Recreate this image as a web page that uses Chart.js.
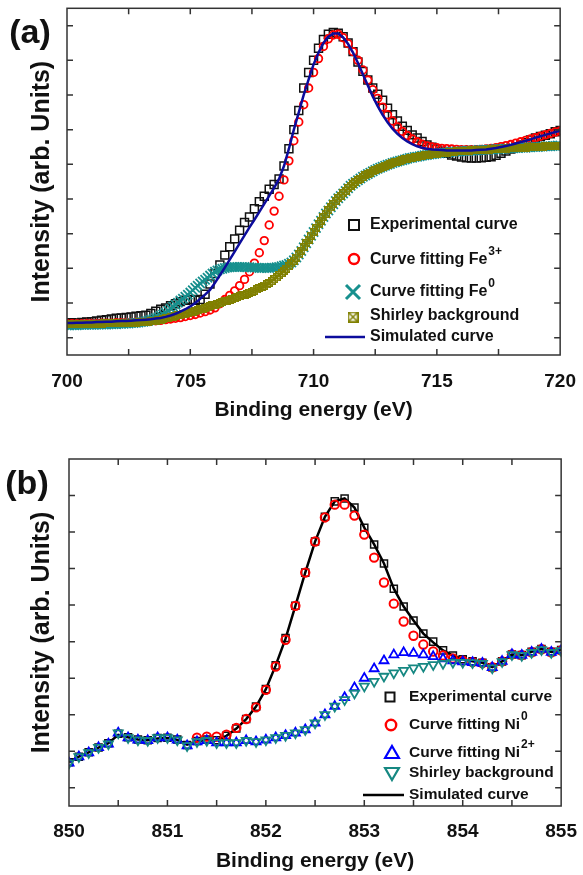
<!DOCTYPE html>
<html>
<head>
<meta charset="utf-8">
<script src="https://cdn.jsdelivr.net/npm/chart.js"></script>
<style>
  html, body { margin: 0; padding: 0; background: #fff; }
  #wrap { position: relative; width: 583px; height: 875px; }
  canvas { position: absolute; left: 0; }
  #chartA { top: 0; }
  #chartB { top: 430px; }
</style>
</head>
<body>
<div id="wrap">
  <canvas id="chartA" width="583" height="430"></canvas>
  <canvas id="chartB" width="583" height="445"></canvas>
</div>
<script>
'use strict';
//panel (a) - Fe 2p, energy grid 700..720 eV
var A_START = 700;
var A_STEP = 0.2;        // experimental, Fe3+ and simulated
var A_STEP_FINE = 0.1;   // Fe0 and Shirley background
var A_TICK_LABELS = [700, 705, 710, 715, 720];
var A_Y_TICKS = [0, 1, 2, 3, 4, 5, 6, 7, 8, 9];

var expA = [
  0.42,0.43,0.42,0.44,0.45,0.46,0.48,0.50,0.52,0.54,
  0.56,0.57,0.58,0.60,0.62,0.63,0.65,0.70,0.76,0.82,
  0.86,0.92,0.98,1.04,1.08,1.10,1.08,1.10,1.25,1.55,
  1.85,2.10,2.38,2.62,2.85,3.10,3.32,3.48,3.72,3.92,
  4.08,4.28,4.42,4.58,4.95,5.45,6.00,6.55,7.20,7.65,
  8.00,8.35,8.60,8.75,8.80,8.78,8.68,8.50,8.25,7.95,
  7.68,7.43,7.20,7.02,6.85,6.62,6.43,6.25,6.10,5.98,
  5.85,5.76,5.66,5.56,5.49,5.44,5.38,5.32,5.27,5.24,
  5.21,5.19,5.18,5.18,5.19,5.20,5.22,5.26,5.32,5.38,
  5.44,5.50,5.56,5.62,5.70,5.76,5.80,5.84,5.88,5.94,
  5.98
];
var fe3A = [
  0.40,0.40,0.40,0.40,0.41,0.41,0.41,0.42,0.42,0.42,
  0.43,0.43,0.44,0.44,0.45,0.46,0.47,0.48,0.49,0.50,
  0.52,0.54,0.56,0.58,0.61,0.64,0.67,0.71,0.75,0.80,
  0.86,0.98,1.10,1.22,1.35,1.50,1.68,1.90,2.15,2.45,
  2.80,3.25,3.65,4.08,4.55,5.10,5.68,6.22,6.72,7.20,
  7.65,8.05,8.40,8.62,8.73,8.75,8.65,8.48,8.25,8.00,
  7.72,7.43,7.15,6.90,6.65,6.43,6.25,6.08,5.95,5.83,
  5.73,5.65,5.58,5.53,5.50,5.48,5.46,5.45,5.44,5.43,
  5.42,5.42,5.42,5.42,5.43,5.44,5.46,5.48,5.51,5.54,
  5.57,5.61,5.65,5.69,5.73,5.77,5.81,5.85,5.89,5.93,
  5.96
];
var simA = [
  0.42,0.42,0.43,0.43,0.44,0.44,0.45,0.45,0.46,0.46,
  0.47,0.48,0.48,0.49,0.50,0.51,0.52,0.53,0.55,0.57,
  0.60,0.64,0.69,0.75,0.82,0.90,1.00,1.12,1.24,1.38,
  1.58,1.80,2.02,2.25,2.48,2.72,2.95,3.18,3.40,3.63,
  3.86,4.09,4.32,4.58,4.95,5.45,6.00,6.50,7.00,7.45,
  7.88,8.22,8.50,8.68,8.77,8.77,8.66,8.47,8.22,7.92,
  7.60,7.27,6.96,6.68,6.43,6.21,6.03,5.88,5.76,5.66,
  5.58,5.52,5.48,5.45,5.43,5.42,5.41,5.40,5.40,5.40,
  5.40,5.40,5.40,5.41,5.42,5.43,5.45,5.47,5.50,5.53,
  5.56,5.60,5.64,5.68,5.72,5.77,5.81,5.85,5.89,5.93,
  5.97
];
var fe0A = [
  0.36,0.36,0.36,0.36,0.36,0.37,0.37,0.37,0.37,0.37,
  0.37,0.37,0.38,0.38,0.38,0.38,0.38,0.39,0.39,0.39,
  0.39,0.40,0.40,0.40,0.41,0.41,0.42,0.42,0.43,0.44,
  0.45,0.46,0.47,0.49,0.51,0.53,0.56,0.59,0.63,0.67,
  0.72,0.78,0.84,0.90,0.95,1.01,1.07,1.12,1.18,1.24,
  1.30,1.37,1.44,1.50,1.56,1.62,1.67,1.73,1.79,1.85,
  1.90,1.94,1.97,1.99,2.01,2.02,2.03,2.04,2.04,2.04,
  2.04,2.04,2.04,2.03,2.03,2.02,2.02,2.02,2.01,2.01,
  2.01,2.01,2.01,2.02,2.02,2.03,2.04,2.06,2.08,2.10,
  2.13,2.17,2.23,2.31,2.40,2.50,2.61,2.72,2.83,2.94,
  3.05,3.16,3.27,3.37,3.48,3.58,3.67,3.76,3.85,3.94,
  4.02,4.09,4.16,4.23,4.31,4.38,4.44,4.49,4.54,4.59,
  4.64,4.68,4.72,4.76,4.80,4.84,4.87,4.90,4.93,4.96,
  4.99,5.01,5.04,5.06,5.08,5.10,5.12,5.14,5.16,5.18,
  5.19,5.21,5.22,5.23,5.25,5.26,5.27,5.28,5.29,5.30,
  5.31,5.32,5.33,5.34,5.34,5.35,5.36,5.36,5.37,5.37,
  5.38,5.38,5.39,5.39,5.40,5.40,5.40,5.41,5.41,5.42,
  5.42,5.42,5.43,5.43,5.44,5.44,5.44,5.45,5.45,5.46,
  5.46,5.46,5.47,5.47,5.48,5.48,5.48,5.49,5.49,5.50,
  5.50,5.50,5.51,5.51,5.52,5.52,5.52,5.53,5.53,5.54,
  5.54
];
var shirleyA = [
  0.40,0.40,0.40,0.40,0.40,0.40,0.40,0.40,0.40,0.40,
  0.40,0.40,0.40,0.40,0.40,0.41,0.41,0.41,0.41,0.41,
  0.41,0.41,0.42,0.42,0.42,0.42,0.43,0.43,0.43,0.44,
  0.44,0.45,0.45,0.46,0.47,0.48,0.49,0.50,0.52,0.54,
  0.56,0.58,0.59,0.61,0.62,0.64,0.66,0.68,0.69,0.71,
  0.73,0.75,0.77,0.79,0.82,0.84,0.86,0.88,0.91,0.93,
  0.95,0.97,1.00,1.02,1.05,1.07,1.09,1.12,1.14,1.17,
  1.19,1.22,1.24,1.27,1.30,1.33,1.36,1.39,1.43,1.46,
  1.50,1.54,1.58,1.63,1.68,1.74,1.80,1.86,1.92,1.99,
  2.06,2.14,2.22,2.31,2.40,2.50,2.61,2.72,2.83,2.94,
  3.05,3.16,3.27,3.37,3.48,3.58,3.67,3.76,3.85,3.94,
  4.02,4.09,4.16,4.23,4.31,4.38,4.44,4.49,4.54,4.59,
  4.64,4.68,4.72,4.76,4.80,4.84,4.87,4.90,4.93,4.96,
  4.99,5.01,5.04,5.06,5.08,5.10,5.12,5.14,5.16,5.18,
  5.19,5.21,5.22,5.23,5.25,5.26,5.27,5.28,5.29,5.30,
  5.31,5.32,5.33,5.34,5.34,5.35,5.36,5.36,5.37,5.37,
  5.38,5.38,5.39,5.39,5.40,5.40,5.40,5.41,5.41,5.42,
  5.42,5.42,5.43,5.43,5.44,5.44,5.44,5.45,5.45,5.46,
  5.46,5.46,5.47,5.47,5.48,5.48,5.48,5.49,5.49,5.50,
  5.50,5.50,5.51,5.51,5.52,5.52,5.52,5.53,5.53,5.54,
  5.54
];

//panel (b) - Ni 2p, energy grid 850..855 eV
var B_START = 850;
var B_STEP = 0.1;
var B_TICK_LABELS = [850, 851, 852, 853, 854, 855];
var B_Y_TICKS = [0, 1, 2, 3, 4, 5, 6, 7, 8];

var expB = [
  0.70,0.85,0.97,1.10,1.22,1.48,1.38,1.32,1.30,1.36,
  1.37,1.32,1.17,1.28,1.32,1.30,1.42,1.62,1.88,2.22,
  2.70,3.35,4.10,4.98,5.89,6.74,7.42,7.84,7.92,7.67,
  7.12,6.66,6.14,5.45,4.96,4.58,4.22,4.00,3.76,3.62,
  3.52,3.46,3.42,3.30,3.46,3.65,3.63,3.72,3.80,3.72,
  3.77
];
var ni0B = [
  null,null,null,null,null,null,null,null,null,null,
  null,null,null,1.37,1.40,1.40,1.45,1.64,1.88,2.20,
  2.68,3.32,4.05,4.98,5.89,6.74,7.40,7.75,7.75,7.45,
  6.93,6.30,5.62,5.04,4.55,4.16,3.92,3.73,3.62,3.54,
  3.48,3.44,3.41,3.30,3.46,3.65,3.63,3.71,3.79,3.71,
  3.76
];
var ni2B = [
  0.68,0.85,0.96,1.10,1.20,1.50,1.37,1.31,1.29,1.37,
  1.37,1.31,1.15,1.26,1.29,1.23,1.23,1.23,1.29,1.26,
  1.31,1.37,1.43,1.50,1.59,1.77,2.00,2.23,2.47,2.74,
  3.00,3.26,3.48,3.64,3.70,3.68,3.64,3.59,3.53,3.48,
  3.45,3.43,3.41,3.29,3.46,3.65,3.63,3.71,3.79,3.71,
  3.76
];
var shirleyB = [
  0.68,0.85,0.96,1.10,1.20,1.50,1.37,1.31,1.29,1.37,
  1.37,1.31,1.15,1.26,1.29,1.23,1.23,1.23,1.29,1.26,
  1.31,1.37,1.43,1.50,1.59,1.77,2.00,2.23,2.41,2.59,
  2.78,2.91,3.05,3.14,3.21,3.28,3.32,3.37,3.40,3.43,
  3.43,3.42,3.40,3.28,3.45,3.64,3.62,3.70,3.78,3.70,
  3.75
];
var simB = [
  0.70,0.85,0.97,1.10,1.22,1.45,1.38,1.32,1.30,1.35,
  1.36,1.31,1.18,1.27,1.31,1.30,1.42,1.62,1.88,2.22,
  2.70,3.35,4.08,4.98,5.89,6.74,7.42,7.84,7.92,7.67,
  7.12,6.66,6.14,5.45,4.96,4.58,4.22,3.98,3.76,3.62,
  3.52,3.46,3.42,3.30,3.46,3.65,3.63,3.72,3.80,3.72,
  3.77
];

var FONT = '"Liberation Sans", Arial, sans-serif';
var TEAL_A = '#17908e';
var TEAL_B = '#168882';
var OLIVE = '#808000';
var NAVY = '#0c0c9c';

Chart.defaults.font.family = FONT;
Chart.defaults.color = '#111';

function toPoints(start, step, ys) {
  var out = [];
  for (var i = 0; i < ys.length; i++) {
    if (ys[i] === null) continue;
    out.push({x: Math.round((start + i * step) * 100) / 100, y: ys[i]});
  }
  return out;
}

// little square with an X in it, used for the Shirley background in (a)
function boxCross(size, color, lw) {
  var c = document.createElement('canvas');
  c.width = size;
  c.height = size;
  var g = c.getContext('2d');
  var h = lw / 2;
  g.strokeStyle = color;
  g.lineWidth = lw;
  g.strokeRect(h, h, size - lw, size - lw);
  g.beginPath();
  g.moveTo(h, h); g.lineTo(size - h, size - h);
  g.moveTo(size - h, h); g.lineTo(h, size - h);
  g.stroke();
  return c;
}

function drawSymbol(ctx, s) {
  ctx.save();
  ctx.strokeStyle = s.color;
  ctx.lineWidth = s.lw;
  ctx.beginPath();
  if (s.type === 'rect') {
    ctx.rect(s.x - s.r, s.y - s.r, 2 * s.r, 2 * s.r);
  } else if (s.type === 'circle') {
    ctx.arc(s.x, s.y, s.r, 0, Math.PI * 2);
  } else if (s.type === 'cross') {
    ctx.moveTo(s.x - s.r, s.y - s.r); ctx.lineTo(s.x + s.r, s.y + s.r);
    ctx.moveTo(s.x + s.r, s.y - s.r); ctx.lineTo(s.x - s.r, s.y + s.r);
  } else if (s.type === 'tri' || s.type === 'triDown') {
    var d = s.type === 'tri' ? 1 : -1;
    ctx.moveTo(s.x, s.y - d * s.r);
    ctx.lineTo(s.x + s.r * 0.866, s.y + d * s.r / 2);
    ctx.lineTo(s.x - s.r * 0.866, s.y + d * s.r / 2);
    ctx.closePath();
  } else if (s.type === 'line') {
    ctx.moveTo(s.x1, s.y); ctx.lineTo(s.x2, s.y);
  }
  if (s.type === 'image') {
    ctx.drawImage(s.img, s.x - s.img.width / 2, s.y - s.img.height / 2);
  } else {
    ctx.stroke();
  }
  ctx.restore();
}

// frame, inward ticks, legend and panel letter
function decor(cfg) {
  return {
    id: 'decor',
    afterDraw: function(chart) {
      var ctx = chart.ctx;
      var a = chart.chartArea;
      var xs = chart.scales.x;
      var ys = chart.scales.y;
      var L = 6;
      ctx.save();
      ctx.strokeStyle = '#333';
      ctx.lineWidth = 1.5;
      ctx.strokeRect(a.left, a.top, a.right - a.left, a.bottom - a.top);
      ctx.beginPath();
      xs.ticks.forEach(function(t) {
        var px = xs.getPixelForValue(t.value);
        if (px < a.left + 2 || px > a.right - 2) return;
        ctx.moveTo(px, a.bottom); ctx.lineTo(px, a.bottom - L);
        ctx.moveTo(px, a.top); ctx.lineTo(px, a.top + L);
      });
      ys.ticks.forEach(function(t) {
        var py = ys.getPixelForValue(t.value);
        ctx.moveTo(a.left, py); ctx.lineTo(a.left + L, py);
        ctx.moveTo(a.right, py); ctx.lineTo(a.right - L, py);
      });
      ctx.stroke();

      ctx.fillStyle = '#111';
      ctx.textBaseline = 'middle';
      ctx.textAlign = 'left';
      cfg.legend.forEach(function(item) {
        drawSymbol(ctx, item.sym);
        ctx.font = 'bold ' + cfg.legendSize + 'px ' + FONT;
        ctx.fillText(item.text, cfg.legendX, item.y);
        if (item.sup) {
          var w = ctx.measureText(item.text).width;
          ctx.font = 'bold ' + Math.round(cfg.legendSize * 0.78) + 'px ' + FONT;
          ctx.fillText(item.sup, cfg.legendX + w + 1, item.y - 8);
        }
      });

      ctx.font = 'bold 34px ' + FONT;
      ctx.textAlign = 'center';
      ctx.fillText(cfg.letter, cfg.letterX, cfg.letterY);
      ctx.restore();
    }
  };
}

function makeChart(id, cfg) {
  return new Chart(document.getElementById(id), {
    type: 'scatter',
    data: {datasets: cfg.datasets},
    options: {
      responsive: false,
      animation: false,
      events: [],
      layout: {padding: cfg.padding},
      plugins: {legend: {display: false}, tooltip: {enabled: false}},
      scales: {
        x: {
          type: 'linear',
          position: 'bottom',
          min: cfg.xMin,
          max: cfg.xMax,
          grid: {display: false},
          border: {display: false},
          ticks: {
            stepSize: cfg.xStep,
            autoSkip: false,
            maxRotation: 0,
            padding: cfg.tickPad,
            color: '#111',
            font: {size: 19, weight: 'bold'},
            callback: function(v) {
              return cfg.tickLabels.indexOf(v) >= 0 ? String(v) : '';
            }
          },
          title: {
            display: true,
            text: 'Binding energy (eV)',
            color: '#111',
            font: {size: 21, weight: 'bold'},
            padding: {top: 0, bottom: cfg.xTitlePad}
          },
          afterFit: function(s) { s.height = cfg.xHeight; }
        },
        y: {
          min: cfg.yMin,
          max: cfg.yMax,
          grid: {display: false},
          border: {display: false},
          ticks: {display: false},
          title: {
            display: true,
            text: 'Intensity (arb. Units)',
            color: '#111',
            font: {size: 25, weight: 'bold'},
            padding: {top: 27, bottom: 0}
          },
          afterBuildTicks: function(s) {
            s.ticks = cfg.yTicks.map(function(v) { return {value: v}; });
          },
          afterFit: function(s) { s.width = cfg.yWidth; }
        }
      }
    },
    plugins: [decor(cfg)]
  });
}

var oliveMark = boxCross(8, OLIVE, 1.3);
var oliveLegend = boxCross(11, OLIVE, 1.6);

makeChart('chartA', {
  xMin: 700, xMax: 720, xStep: 2.5, tickLabels: A_TICK_LABELS,
  yMin: -0.5, yMax: 9.5, yTicks: A_Y_TICKS,
  padding: {top: 8, right: 20, left: 0, bottom: 0},
  xHeight: 75, yWidth: 67, tickPad: 7, xTitlePad: 7,
  letter: '(a)', letterX: 30, letterY: 34,
  legendX: 370, legendSize: 16,
  legend: [
    {text: 'Experimental curve', y: 225, sym: {type: 'rect', x: 354, y: 225, r: 5, color: '#111', lw: 2}},
    {text: 'Curve fitting Fe', sup: '3+', y: 260, sym: {type: 'circle', x: 354, y: 259, r: 5, color: '#ff0000', lw: 2.4}},
    {text: 'Curve fitting Fe', sup: '0', y: 292, sym: {type: 'cross', x: 353, y: 292, r: 7, color: TEAL_A, lw: 3}},
    {text: 'Shirley background', y: 316, sym: {type: 'image', x: 353, y: 317, img: oliveLegend}},
    {text: 'Simulated curve', y: 337, sym: {type: 'line', x1: 325, x2: 365, y: 337, color: NAVY, lw: 2.5}}
  ],
  datasets: [
    {label: 'Simulated curve', data: toPoints(A_START, A_STEP, simA), showLine: true,
      borderColor: NAVY, borderWidth: 2.5, pointRadius: 0, tension: 0},
    {label: 'Shirley background', data: toPoints(A_START, A_STEP_FINE, shirleyA),
      pointStyle: oliveMark, pointRadius: 4},
    {label: 'Curve fitting Fe0', data: toPoints(A_START, A_STEP_FINE, fe0A),
      pointStyle: 'crossRot', pointRadius: 6.5, borderColor: TEAL_A, pointBorderWidth: 1.8},
    {label: 'Curve fitting Fe3+', data: toPoints(A_START, A_STEP, fe3A),
      pointStyle: 'circle', pointRadius: 3.8, borderColor: '#ff0000',
      backgroundColor: 'rgba(0,0,0,0)', pointBorderWidth: 1.8},
    {label: 'Experimental curve', data: toPoints(A_START, A_STEP, expA),
      pointStyle: 'rect', pointRadius: 5.6, borderColor: '#111',
      backgroundColor: 'rgba(0,0,0,0)', pointBorderWidth: 1.5}
  ]
});

makeChart('chartB', {
  xMin: 850, xMax: 855, xStep: 0.5, tickLabels: B_TICK_LABELS,
  yMin: -0.5, yMax: 9, yTicks: B_Y_TICKS,
  padding: {top: 29, right: 17, left: 0, bottom: 0},
  xHeight: 69, yWidth: 69, tickPad: 6, xTitlePad: 1,
  letter: '(b)', letterX: 27, letterY: 55,
  legendX: 409, legendSize: 15.5,
  legend: [
    {text: 'Experimental curve', y: 267, sym: {type: 'rect', x: 390, y: 267, r: 4.5, color: '#111', lw: 2}},
    {text: 'Curve fitting Ni', sup: '0', y: 295, sym: {type: 'circle', x: 391, y: 295, r: 5.2, color: '#ff0000', lw: 2.4}},
    {text: 'Curve fitting Ni', sup: '2+', y: 323, sym: {type: 'tri', x: 392, y: 324, r: 8, color: '#0000ff', lw: 2.2}},
    {text: 'Shirley background', y: 343, sym: {type: 'triDown', x: 392, y: 342, r: 8, color: TEAL_B, lw: 2.2}},
    {text: 'Simulated curve', y: 365, sym: {type: 'line', x1: 363, x2: 404, y: 365, color: '#000', lw: 2.5}}
  ],
  datasets: [
    {label: 'Shirley background', data: toPoints(B_START, B_STEP, shirleyB),
      pointStyle: 'triangle', pointRotation: 180, pointRadius: 5.2, borderColor: TEAL_B,
      backgroundColor: 'rgba(0,0,0,0)', pointBorderWidth: 1.8},
    {label: 'Curve fitting Ni2+', data: toPoints(B_START, B_STEP, ni2B),
      pointStyle: 'triangle', pointRadius: 5.2, borderColor: '#0000ff',
      backgroundColor: 'rgba(0,0,0,0)', pointBorderWidth: 1.8},
    {label: 'Curve fitting Ni0', data: toPoints(B_START, B_STEP, ni0B),
      pointStyle: 'circle', pointRadius: 4.2, borderColor: '#ff0000',
      backgroundColor: 'rgba(0,0,0,0)', pointBorderWidth: 2},
    {label: 'Simulated curve', data: toPoints(B_START, B_STEP, simB), showLine: true,
      borderColor: '#000', borderWidth: 2.5, pointRadius: 0, tension: 0},
    {label: 'Experimental curve', data: toPoints(B_START, B_STEP, expB),
      pointStyle: 'rect', pointRadius: 5, borderColor: '#111',
      backgroundColor: 'rgba(0,0,0,0)', pointBorderWidth: 1.5}
  ]
});
</script>
</body>
</html>
